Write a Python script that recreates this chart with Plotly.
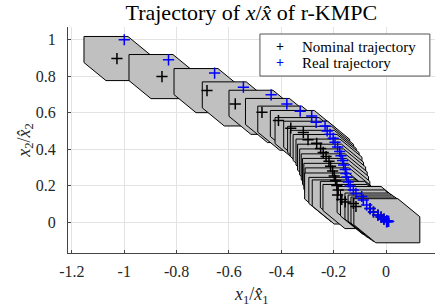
import plotly.graph_objects as go

# Nominal trajectory (tube centres)
nom_x = [-1.028, -0.856, -0.684, -0.576, -0.474, -0.411, -0.364, -0.316, -0.298, -0.265,
         -0.250, -0.240, -0.229, -0.218, -0.212, -0.204, -0.198, -0.193, -0.188, -0.183,
         -0.185, -0.169, -0.156, -0.125, -0.115, -0.061, -0.048, -0.031, -0.019, -0.008, 0.003]
nom_y = [0.897, 0.798, 0.721, 0.648, 0.602, 0.557, 0.515, 0.491, 0.452, 0.432,
         0.404, 0.382, 0.359, 0.334, 0.306, 0.280, 0.253, 0.228, 0.201, 0.176,
         0.148, 0.124, 0.110, 0.102, 0.085, 0.074, 0.055, 0.038, 0.027, 0.016, 0.007]

# Real trajectory
real_x = [-1.000, -0.831, -0.655, -0.545, -0.439, -0.379, -0.328, -0.284, -0.267, -0.233,
          -0.225, -0.214, -0.202, -0.195, -0.185, -0.177, -0.172, -0.166, -0.162, -0.156,
          -0.153, -0.150, -0.144, -0.137, -0.125, -0.115, -0.093, -0.087, -0.074, -0.061,
          -0.048, -0.031, -0.019, -0.008, 0.003, 0.010, 0.008, 0.005, 0.002]
real_y = [1.000, 0.890, 0.817, 0.740, 0.698, 0.648, 0.608, 0.582, 0.547, 0.527,
          0.500, 0.481, 0.459, 0.437, 0.412, 0.387, 0.363, 0.338, 0.313, 0.288,
          0.266, 0.247, 0.220, 0.198, 0.176, 0.157, 0.140, 0.121, 0.093, 0.074,
          0.055, 0.038, 0.027, 0.016, 0.007, 0.003, 0.004, 0.002, 0.001]

# Tube cross-section (vertices relative to the nominal state)
tube_dx = [-0.126, 0.042, 0.126, 0.126, -0.042, -0.126, -0.126]
tube_dy = [0.121, 0.121, 0.022, -0.121, -0.121, -0.022, 0.121]

x_ticks = [-1.2, -1.0, -0.8, -0.6, -0.4, -0.2, 0.0]
x_tick_labels = ["-1.2", "-1", "-0.8", "-0.6", "-0.4", "-0.2", "0"]
y_ticks = [0, 0.2, 0.4, 0.6, 0.8, 1.0]
y_tick_labels = ["0", "0.2", "0.4", "0.6", "0.8", "1"]

legend_names = ["Nominal trajectory", "Real trajectory"]
legend_colors = ["black", "blue"]

FONT = "Liberation Serif"

fig = go.Figure()
for cx, cy in zip(nom_x, nom_y):
    fig.add_trace(go.Scatter(
        x=[cx + d for d in tube_dx], y=[cy + d for d in tube_dy],
        mode="lines", fill="toself", fillcolor="rgb(192,192,192)",
        line=dict(color="black", width=1), showlegend=False, hoverinfo="skip"))

fig.add_trace(go.Scatter(
    x=nom_x, y=nom_y, mode="markers", name=legend_names[0], showlegend=False,
    marker=dict(symbol="cross-thin", size=8, line=dict(color=legend_colors[0], width=1.5))))
fig.add_trace(go.Scatter(
    x=real_x, y=real_y, mode="markers", name=legend_names[1], showlegend=False,
    marker=dict(symbol="cross-thin", size=8, line=dict(color=legend_colors[1], width=1.5))))

# Legend box (MATLAB style compact legend)
annotations = [
    dict(text="<i>x</i><sub>1</sub>/<i>x\u0302</i><sub>1</sub>", xref="paper", yref="paper",
         x=0.5, y=-0.186, xanchor="center", yanchor="middle", showarrow=False,
         font=dict(family=FONT, size=18, color="#262626")),
    dict(text="<i>x</i><sub>2</sub>/<i>x\u0302</i><sub>2</sub>", xref="paper", yref="paper",
         x=-0.118, y=0.5, xanchor="center", yanchor="middle", showarrow=False,
         textangle=-90, font=dict(family=FONT, size=18, color="#262626")),
]
row_y = [0.912, 0.841]
for name, col, ry in zip(legend_names, legend_colors, row_y):
    annotations.append(dict(text="<b>+</b>", xref="paper", yref="paper", x=0.578, y=ry,
                            xanchor="center", yanchor="middle", showarrow=False,
                            font=dict(family=FONT, size=14, color=col)))
    annotations.append(dict(text=name, xref="paper", yref="paper", x=0.632, y=ry,
                            xanchor="left", yanchor="middle", showarrow=False,
                            font=dict(family=FONT, size=15, color="black")))

fig.update_layout(
    template="none",
    width=441, height=307,
    margin=dict(l=68, r=6, t=27, b=54, autoexpand=False),
    paper_bgcolor="white", plot_bgcolor="white",
    font=dict(family=FONT, size=15, color="#262626"),
    showlegend=False,
    title=dict(text="Trajectory of <i>x</i>/<i>x\u0302</i> of r-KMPC",
               x=0.57, xanchor="center", y=0.96, yanchor="middle",
               font=dict(family=FONT, size=22, color="black")),
    shapes=[dict(type="rect", xref="paper", yref="paper", x0=0.523, x1=0.986,
                 y0=0.783, y1=0.969, fillcolor="white", line=dict(color="#555555", width=1),
                 layer="above")],
    annotations=annotations,
)
fig.update_xaxes(range=[-1.215, 0.187], tickvals=x_ticks, ticktext=x_tick_labels,
                 automargin=False,
                 showgrid=True, gridcolor="#e3e3e3", zeroline=False,
                 showline=True, linecolor="#444444", linewidth=1,
                 ticks="inside", ticklen=3, tickcolor="#444444",
                 ticklabelstandoff=4,
                 tickfont=dict(family=FONT, size=16, color="#262626"))
fig.update_yaxes(range=[-0.17, 1.07], tickvals=y_ticks, ticktext=y_tick_labels,
                 automargin=False,
                 showgrid=True, gridcolor="#e3e3e3", zeroline=False,
                 showline=True, linecolor="#444444", linewidth=1,
                 ticks="inside", ticklen=3, tickcolor="#444444",
                 ticklabelstandoff=8,
                 tickfont=dict(family=FONT, size=16, color="#262626"))

fig.write_html("out.html", config={"displayModeBar": False},
               post_script="document.body.style.margin='0';document.body.style.overflow='hidden';")
